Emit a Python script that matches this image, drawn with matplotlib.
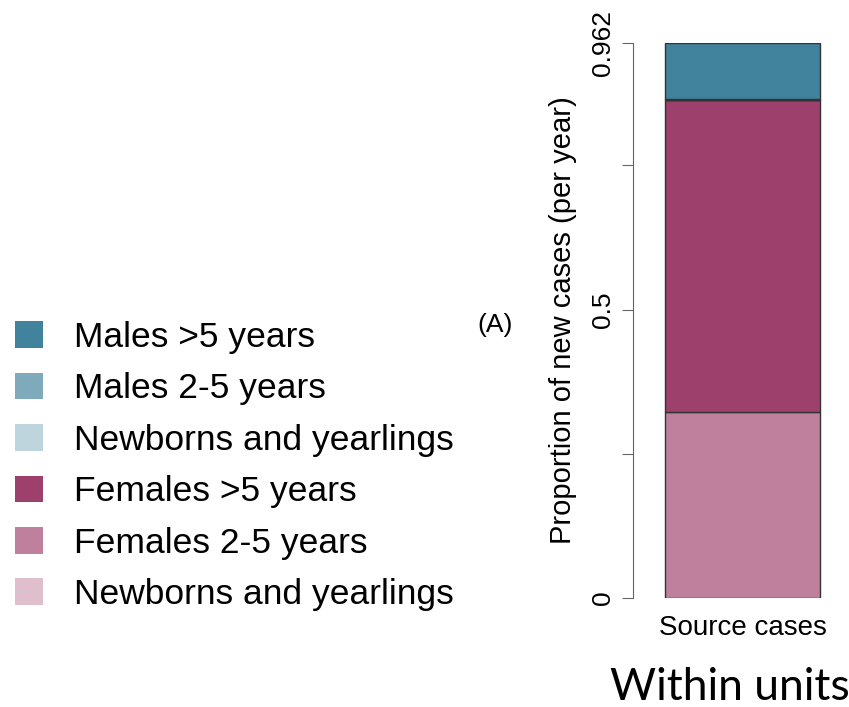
import matplotlib
matplotlib.use("Agg")
import matplotlib.pyplot as plt
from matplotlib.patches import Patch

plt.rcParams["font.family"] = ["Liberation Sans", "DejaVu Sans"]

# legend order (top to bottom)
groups = ["Males >5 years", "Males 2-5 years", "Newborns and yearlings",
          "Females >5 years", "Females 2-5 years", "Newborns and yearlings"]
colors = ["#41829C", "#7FAABB", "#BFD5DD", "#9E406C", "#BF809E", "#DFBFCE"]
# proportions of new source cases, same order as groups
values = [0.097, 0.002, 0.0, 0.541, 0.322, 0.0]
category = "Source cases"
ymax = 0.962
yticks = [0, 0.25, 0.5, 0.75, 0.962]
yticklabels = ["0", "", "0.5", "", "0.962"]

W, H = 849, 707
fig = plt.figure(figsize=(W / 100, H / 100), dpi=100)
ax = fig.add_axes([633 / W, (H - 598) / H, (W - 633) / W, 555 / H])

# stack from the bottom (reverse legend order)
bottom = 0
for lab, col, v in reversed(list(zip(groups, colors, values))):
    ax.bar(0, v, width=1.0, bottom=bottom, color=col,
           edgecolor="#333333", linewidth=1.0)
    bottom += v

ax.set_xlim((633 - 742.5) / 155, (W - 742.5) / 155)
ax.set_ylim(0, ymax)
for s in ["top", "right", "bottom"]:
    ax.spines[s].set_visible(False)
ax.spines["left"].set_color("#666666")
ax.spines["left"].set_bounds(0, ymax)
ax.set_yticks(yticks)
ax.set_yticklabels(yticklabels, rotation=90, va="center", fontsize=19)
ax.tick_params(axis="y", length=8, color="#666666", pad=5)
ax.set_xticks([0])
ax.set_xticklabels([category], fontsize=20)
ax.tick_params(axis="x", length=0, pad=12)
ax.set_ylabel("Proportion of new cases (per year)", fontsize=21, labelpad=10)

fig.text(495 / W, 1 - 325 / H, "(A)", fontsize=19, ha="center", va="center")
fig.text(730 / W, 1 - 688 / H, "Within units", fontsize=32,
         family=["Lato", "DejaVu Sans"], ha="center", va="center")

handles = [Patch(facecolor=c, edgecolor="none") for c in colors]
fig.legend(handles, groups, loc="center left", bbox_to_anchor=(0.0, 1 - 466 / H),
           frameon=False, fontsize=25.5, handlelength=0.78, handleheight=0.78,
           handletextpad=0.9, labelspacing=0.52, borderpad=0.4, borderaxespad=0.02)

fig.savefig("out.png", dpi=100)
